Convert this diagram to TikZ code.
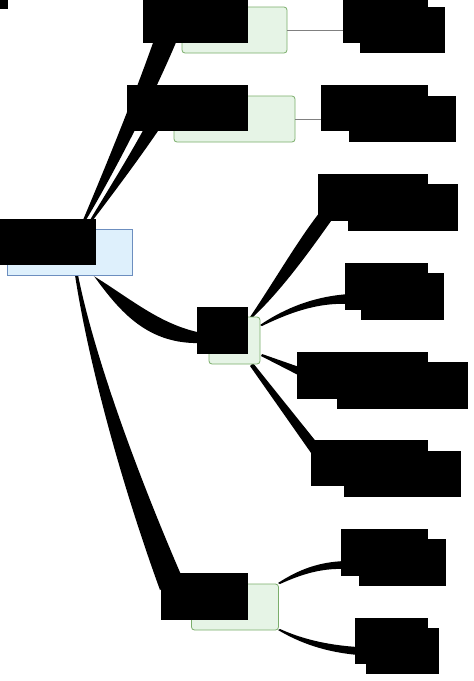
\documentclass[tikz,border=0pt]{standalone}
\begin{document}
\begin{tikzpicture}[x=1pt,y=-1pt,
  rootbox/.style={draw=rootline,fill=rootfill,line width=0.8pt,inner sep=0pt,minimum height=46pt},
  subbox/.style={draw=subline,fill=subfill,line width=0.8pt,rounded corners=3pt,inner sep=0pt,minimum height=46pt},
  blk/.style={fill=black,draw=none,inner sep=0pt,minimum height=46pt},
  thinlink/.style={draw=gray,line width=0.8pt},
  taper/.style={fill=black,draw=none}]
\definecolor{rootfill}{HTML}{DEF0FC}
\definecolor{rootline}{HTML}{6C8EBF}
\definecolor{subfill}{HTML}{E6F4E6}
\definecolor{subline}{HTML}{7BAE6B}
\useasboundingbox (0,0) rectangle (474,681);
\clip (0,0) rectangle (474,681);
\fill[white] (0,0) rectangle (474,681);

% tapered connectors
\fill[taper] (83,220) .. controls (100,180) and (133,100) .. (154,40) -- (177,40) .. controls (152,100) and (110,180) .. (86,220) -- cycle;
\fill[taper] (90,220) .. controls (105,195) and (130,155) .. (146,125) -- (162,125) .. controls (142,155) and (112,195) .. (93,220) -- cycle;
\fill[taper] (92,275) .. controls (130,298) and (160,325) .. (202,333) -- (202,343) .. controls (148,345) and (120,312) .. (94,276) -- cycle;
\fill[taper] (75,275) .. controls (88,360) and (120,480) .. (160,590) -- (182,577) .. controls (140,480) and (95,360) .. (78,275) -- cycle;
\fill[taper] (250,317) .. controls (275,280) and (298,240) .. (320,212) -- (336,214) .. controls (314,245) and (284,288) .. (252,318) -- cycle;
\fill[taper] (260,325) .. controls (285,308) and (315,296) .. (350,294) -- (350,304) .. controls (315,302) and (285,315) .. (262,326) -- cycle;
\fill[taper] (262,354) -- (302,368) -- (302,377) -- (261,356) -- cycle;
\fill[taper] (250,366) -- (316,460) -- (318,444) -- (253,363) -- cycle;
\fill[taper] (278,583) .. controls (298,570) and (318,562) .. (345,561) -- (345,569) .. controls (320,568) and (300,575) .. (280,584) -- cycle;
\fill[taper] (278,630) .. controls (300,643) and (325,652) .. (358,655) -- (358,647) .. controls (325,645) and (300,638) .. (280,629) -- cycle;

% coloured nodes
\node[rootbox,minimum width=125pt] (root) at (69.5,252) {};
\node[subbox,minimum width=105pt] (a) at (234.5,30) {};
\node[subbox,minimum width=121pt] (b) at (234.5,119) {};
\node[subbox,minimum width=51pt,minimum height=47pt] (c) at (234.5,340.5) {};
\node[subbox,minimum width=87pt] (d) at (235,607) {};

% leaf nodes (black)
\node[blk,minimum width=85pt] (la) at (402.5,30) {};
\node[blk,minimum width=107pt] (lb) at (402.5,119) {};
\node[blk,minimum width=110pt,minimum height=47pt] (c1) at (403,207.5) {};
\node[blk,minimum width=83pt,minimum height=47pt] (c2) at (402.5,296.5) {};
\node[blk,minimum width=131pt,minimum height=47pt] (c3) at (402.5,385.5) {};
\node[blk,minimum width=117pt] (c4) at (402.5,474) {};
\node[blk,minimum width=87pt,minimum height=47pt] (d1) at (402.5,562.5) {};
\node[blk,minimum width=73pt] (d2) at (402.5,651) {};

% thin links
\draw[thinlink] (a.east) -- (la.west);
\draw[thinlink] (b.east) -- (lb.west);

% black label blocks
\node[blk,minimum width=125pt] (kroot) at (33.5,242) {};
\node[blk,minimum width=105pt] (ka) at (195.5,20) {};
\node[blk,minimum width=121pt] (kb) at (187.5,108) {};
\node[blk,minimum width=51pt,minimum height=47pt] (kc) at (222.5,330.5) {};
\node[blk,minimum width=87pt,minimum height=47pt] (kd) at (204.5,596.5) {};
\node[blk,minimum width=85pt] (kla) at (385.5,20) {};
\node[blk,minimum width=107pt] (klb) at (374.5,108) {};
\node[blk,minimum width=110pt,minimum height=47pt] (kc1) at (373,197.5) {};
\node[blk,minimum width=83pt,minimum height=47pt] (kc2) at (386.5,286.5) {};
\node[blk,minimum width=131pt,minimum height=47pt] (kc3) at (362.5,375.5) {};
\node[blk,minimum width=117pt] (kc4) at (369.5,463) {};
\node[blk,minimum width=87pt,minimum height=47pt] (kd1) at (384.5,552.5) {};
\node[blk,minimum width=73pt] (kd2) at (391.5,641) {};
\node[blk,minimum width=8pt,minimum height=9pt] (corner) at (4,4.5) {};
\end{tikzpicture}
\end{document}
